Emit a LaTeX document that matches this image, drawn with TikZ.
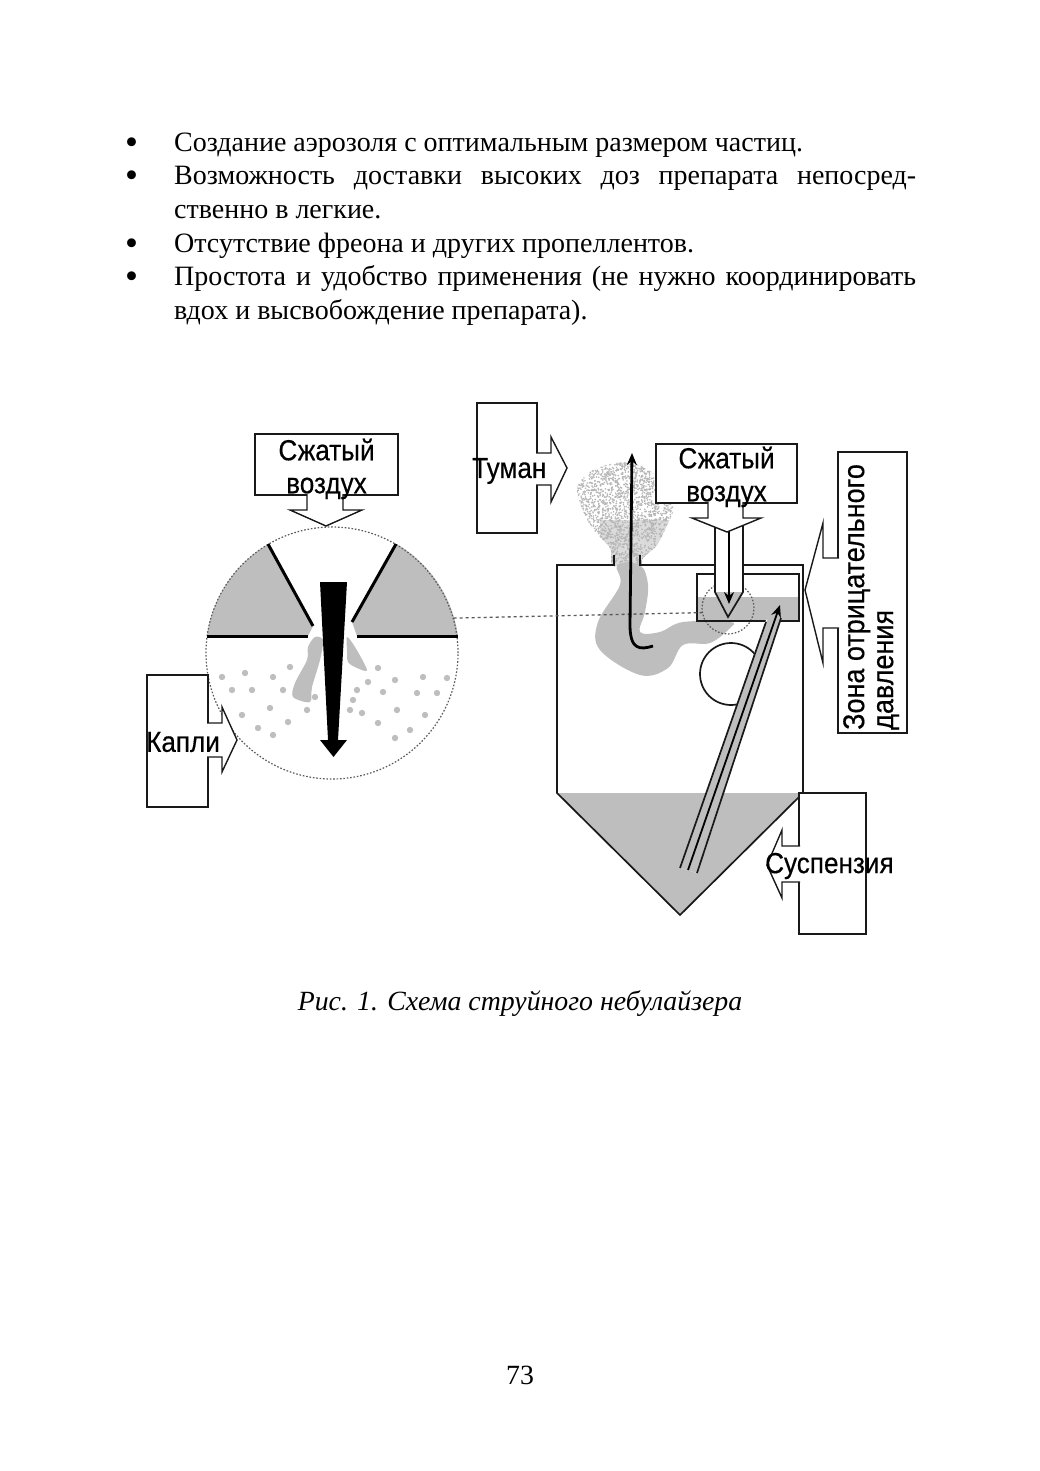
\documentclass[tikz,border=0pt]{standalone}
\usepackage{fontspec}
\usepackage{xcolor}
\usetikzlibrary{arrows.meta, positioning, calc}
\setmainfont{Liberation Serif}
\setsansfont[FakeStretch=0.9, FakeBold=0.4]{Liberation Sans}
\definecolor{nebgrey}{RGB}{190,190,190}
\definecolor{nebink}{RGB}{25,25,25}
\definecolor{nebdot}{RGB}{90,90,90}
\newcommand{\itemdot}{\llap{\raisebox{-3pt}{\fontsize{37}{37}\selectfont•}\hspace{36pt}}}

\begin{document}
\begin{tikzpicture}[x=1pt, y=-1pt,
    item/.style={text width=742pt, align=justify, inner sep=0pt, anchor=north west,
        font=\fontsize{28}{33.4}\selectfont},
    pagetext/.style={inner sep=0pt, font=\fontsize{27.8}{33.4}\selectfont},
    labelbox/.style={rectangle, draw=nebink, line width=1.4pt, fill=white, inner sep=0pt},
    lbl/.style={inner sep=0pt, text=black, font=\fontsize{29}{33}\selectfont\sffamily},
    wall/.style={draw=nebink, line width=1.7pt},
    block/.style={draw=nebink, line width=1.4pt, fill=white},
    lens/.style={circle, draw=nebdot, dash pattern=on 1.6pt off 1.8pt, line width=1.2pt, inner sep=0pt},
    plate/.style={line width=3pt, color=black},
    flowarrow/.style={-{Stealth[length=12pt,width=10pt]}, line width=2.8pt, color=black}
]
\useasboundingbox (0,0) rectangle (1039,1471);

\node[item] (item1) at (174,127.5) {\strut\itemdot Создание аэрозоля с оптимальным размером частиц.\strut};
\node[item, below=0pt of item1.south] (item2) {\strut\itemdot Возможность доставки высоких доз препарата непосред-\linebreak ственно в легкие.\strut};
\node[item, below=0pt of item2.south] (item3) {\strut\itemdot Отсутствие фреона и других пропеллентов.\strut};
\node[item, below=0pt of item3.south] (item4) {\strut\itemdot Простота и удобство применения (не нужно координировать\linebreak вдох и высвобождение препарата).\strut};

% left: the enlarged nozzle
\fill[nebgrey] (207,636) arc[start angle=-172.3, end angle=-120.4, radius=126] -- (313,626) -- (308,636) -- cycle;
\fill[nebgrey] (458,636) arc[start angle=-7.7, end angle=-59.6, radius=126] -- (352,622) -- (357,636) -- cycle;
\node[lens, minimum size=252pt] (detail) at (332,653) {};
\draw[plate] (207,636) -- (308,636);
\draw[plate] (357,636) -- (458,636);
\draw[plate] (268,544) -- (313,626);
\draw[plate] (396,544) -- (352,622);
\fill[nebgrey] plot[smooth cycle] coordinates {(315,637) (323,640) (320,660) (312,687) (310,702) (293,697) (295,683) (307,660) (308,647)};
\fill[nebgrey] plot[smooth cycle] coordinates {(347,637) (355,647) (367,670) (357,668) (348,662) (347,650)};
\foreach \dx/\dy in {222/677,245/673,273/677,290/667,232/690,252/690,283/690,315/697,270/708,307/710,242/715,288/722,258/728,273/735,378/668,368/682,395/680,423/677,447/678,357/690,383/692,417/693,437/693,353/700,350/710,362/713,397/710,425/715,378/723,410/730,395/738}
    \fill[nebgrey] (\dx,\dy) circle (3.2pt);
\fill[black] (320,582) -- (347,582) -- (338,740) -- (347,740) -- (333.5,757) -- (320,740) -- (328,740) -- cycle;

\node[labelbox, minimum width=143pt, minimum height=61pt] (airleft) at (326.5,464.5) {};
\draw[block] (307,494) -- (307,510) -- (290,510) -- (326,526) -- (362,510) -- (343,510) -- (343,494);
\node[lbl, align=center] at (326.5,469) {Сжатый\\воздух};

\node[labelbox, minimum width=61pt, minimum height=132pt] (drops) at (177.5,741) {};
\draw[block] (207,723) -- (222,723) -- (222,707) -- (237,740) -- (222,772) -- (222,757) -- (207,757);
\node[lbl, anchor=west] at (146,742) {Капли};

% right: the vessel
\begin{scope}
\clip plot[smooth cycle] coordinates {(577,490) (593,470) (627,462) (655,475) (673,507) (667,525) (657,545) (643,558) (640,566) (613,566) (610,548) (590,525)};
\fill[nebgrey!55] (600,520) rectangle (670,566);
\pgfmathsetseed{73}
\foreach \n in {1,...,2600}
    \fill[nebdot!45] ({575+100*rnd},{460+106*rnd}) circle (0.9pt);
\end{scope}
\fill[nebgrey] plot[smooth cycle, tension=0.6] coordinates {(617,565) (620,585) (598,622) (600,650) (640,675) (668,668) (683,645) (710,643) (730,628) (730,622) (683,622) (660,632) (640,632) (645,612) (648,585) (640,565)};
\fill[nebgrey] (557,793) -- (802,793) -- (680,915) -- cycle;
\draw[wall] (614,555) -- (614,565) -- (557,565) -- (557,793) -- (680,915) -- (803,793) -- (803,565) -- (640,565) -- (640,555);

\fill[nebgrey] (698,597) rectangle (798,620);
\begin{scope}
\clip (690,630) -- (763,630) -- (735,710) -- (690,710) -- cycle;
\node[circle, draw=nebink, line width=1.7pt, minimum size=62pt, inner sep=0pt] (ball) at (731,674) {};
\end{scope}
\node[lens, minimum size=52pt] (focus) at (728,608) {};
\node[rectangle, draw=nebink, line width=1.7pt, minimum width=102pt, minimum height=47pt, inner sep=0pt] (chamber) at (748,597.5) {};
\draw[draw=nebdot, line width=1.3pt, dash pattern=on 3pt off 3pt] (detail.16.6) -- (focus.190);
\draw[flowarrow] (653,646) .. controls (640,650) and (630,650) .. (630,625) -- (632,453);

\fill[white] (715,528) -- (715,592) -- (728,617) -- (743,592) -- (743,528) -- cycle;
\fill[nebgrey] (715,592) -- (728,617) -- (743,592) -- cycle;
\draw[wall] (715,525) -- (715,592) -- (728,617) -- (743,592) -- (743,525);
\draw[flowarrow, line width=1.6pt] (729,530) -- (729,604);

\fill[white] (680,868) -- (766,620) -- (781,618) -- (697,873) -- cycle;
\fill[nebgrey] (680,868) -- (766,622) -- (780,605) -- (781,618) -- (697,873) -- cycle;
\draw[wall] (680,868) -- (766,622);
\draw[wall] (697,873) -- (781,618);
\draw[flowarrow, line width=1.8pt] (688,870) -- (780,605);

\node[labelbox, minimum width=141pt, minimum height=59pt] (airright) at (726.5,473.5) {};
\draw[block] (708,502) -- (708,518) -- (692,518) -- (727,532) -- (761,518) -- (743,518) -- (743,502);
\node[lbl, align=center] at (726.5,477) {Сжатый\\воздух};

\node[labelbox, minimum width=60pt, minimum height=130pt] (mist) at (507,468) {};
\draw[block] (536,453) -- (551,453) -- (551,437) -- (567,468) -- (551,502) -- (551,485) -- (536,485);
\node[lbl, anchor=west] at (472,471) {Туман};

\node[labelbox, minimum width=69pt, minimum height=281pt] (zone) at (872.5,592.5) {};
\draw[block] (839,558) -- (823,558) -- (823,523) -- (805,590) -- (823,663) -- (823,628) -- (839,628);
\node[lbl, rotate=90, align=left, anchor=north west, font=\fontsize{30}{29}\selectfont\sffamily] at (843,730) {Зона отрицательного\\давления};

\node[labelbox, minimum width=67pt, minimum height=141pt] (susp) at (832.5,863.5) {};
\draw[block] (800,846) -- (782,846) -- (782,830) -- (767,865) -- (782,898) -- (782,882) -- (800,882);
\node[lbl, anchor=west] at (765,866) {Суспензия};

\node[pagetext, font=\fontsize{27.8}{33.4}\selectfont\itshape] (caption) at (520,1004) {Рис. 1. Схема струйного небулайзера};
\node[pagetext] (pageno) at (520,1375) {73};
\end{tikzpicture}
\end{document}
